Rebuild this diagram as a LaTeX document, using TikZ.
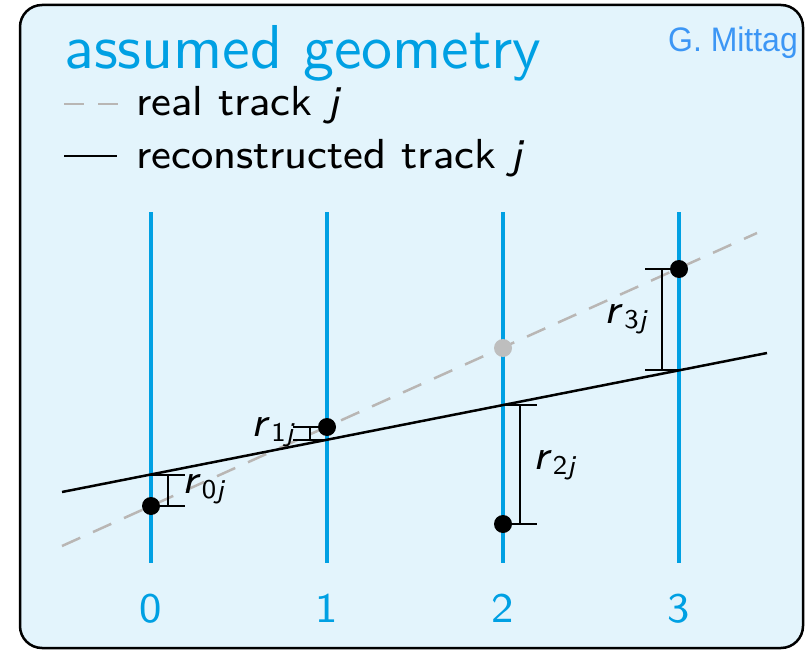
\documentclass[tikz,border=0pt]{standalone}
\usepackage{fontspec}
\newfontfamily\mittagfont[FakeStretch=0.94]{Liberation Sans}
\newfontfamily\titlefont{lmsans10-regular.otf}
\newfontfamily\legfont[ItalicFont=lmsans8-oblique.otf]{lmsans8-regular.otf}
\definecolor{detblue}{RGB}{0,160,227}
\definecolor{bgblue}{RGB}{227,244,252}
\definecolor{trackgray}{RGB}{185,182,180}
\definecolor{dotgray}{RGB}{190,190,190}
\definecolor{authorblue}{RGB}{60,150,245}
\tikzset{
  frame/.style={draw=black,line width=2.5pt,fill=bgblue,rounded corners=22pt},
  det/.style={draw=detblue,line width=4pt},
  realtrk/.style={draw=trackgray,line width=2.5pt,dash pattern=on 20pt off 14pt},
  recotrk/.style={draw=black,line width=2.5pt},
  hit/.style={circle,fill=black,inner sep=0pt,minimum size=18pt},
  truehit/.style={circle,fill=dotgray,inner sep=0pt,minimum size=18pt},
  resbar/.style={draw=black,line width=2pt},
  reslabel/.style={font=\fontsize{42}{44}\selectfont\legfont,inner sep=0pt},
  legtext/.style={font=\fontsize{42}{44}\selectfont\legfont,inner sep=0pt,anchor=base west},
  layerno/.style={font=\fontsize{42}{44}\selectfont\legfont,text=detblue,inner sep=0pt,anchor=base},
}
\newcommand{\resid}[1]{\textit{r}\hspace{1pt}\raisebox{-5pt}{\fontsize{27}{27}\selectfont #1\textit{j}}}
\begin{document}
\begin{tikzpicture}[x=1pt,y=-1pt]
\useasboundingbox (0,0) rectangle (806,650);
\draw[frame] (20,5) rectangle (803,648);
% title and author
\node[font=\fontsize{62}{64}\selectfont\titlefont,text=detblue,inner sep=0pt,anchor=base west] (title) at (64,69) {assumed geometry};
\node[font=\fontsize{34}{36}\selectfont\mittagfont,text=authorblue,inner sep=0pt,anchor=base east] (author) at (798,52) {G. Mittag};
% legend
\coordinate (lr1) at (64,104); \coordinate (lr2) at (120,104);
\draw[realtrk] (lr1) -- (lr2);
\node[legtext] (legreal) at (136,116) {real track \textit{j}};
\coordinate (ls1) at (64,156); \coordinate (ls2) at (117,156);
\draw[recotrk] (ls1) -- (ls2);
\node[legtext] (legreco) at (136,168) {reconstructed track \textit{j}};
% detector layers
\foreach \i/\x in {0/151,1/327,2/503,3/679}{
  \coordinate (top\i) at (\x,212);
  \coordinate (bot\i) at (\x,563);
  \draw[det] (top\i) -- (bot\i);
  \node[layerno] (num\i) at (\x,622) {\i};
}
% tracks
\coordinate (rs) at (62,546); \coordinate (re) at (757,233);
\draw[realtrk] (rs) -- (re);
\coordinate (cs) at (62,492); \coordinate (ce) at (767,353);
\draw[recotrk] (cs) -- (ce);
% fitted positions on reconstructed track
\coordinate (f0) at (151,474.5);
\coordinate (f1) at (327,439.7);
\coordinate (f2) at (503,405);
\coordinate (f3) at (679,370.3);
% hits
\node[truehit] (t2) at (503,348) {};
\node[hit] (p0) at (151,506) {};
\node[hit] (p1) at (327,427) {};
\node[hit] (p2) at (503,524) {};
\node[hit] (p3) at (679,269) {};
% residual bars
\draw[resbar] (f0) -- ++(34,0);
\draw[resbar] (p0.center) -- ++(34,0);
\draw[resbar] ([xshift=17pt]f0) -- ([xshift=17pt]p0.center);
\draw[resbar] (f1) -- ++(-34,0);
\draw[resbar] (p1.center) -- ++(-34,0);
\draw[resbar] ([xshift=-17pt]f1) -- ([xshift=-17pt]p1.center);
\draw[resbar] (f2) -- ++(34,0);
\draw[resbar] (p2.center) -- ++(34,0);
\draw[resbar] ([xshift=17pt]f2) -- ([xshift=17pt]p2.center);
\draw[resbar] (f3) -- ++(-34,0);
\draw[resbar] (p3.center) -- ++(-34,0);
\draw[resbar] ([xshift=-17pt]f3) -- ([xshift=-17pt]p3.center);
% residual labels
\node[reslabel,anchor=base west] (r0) at (182,493) {\resid{0}};
\node[reslabel,anchor=base east] (r1) at (295,436) {\resid{1}};
\node[reslabel,anchor=base west] (r2) at (533,469) {\resid{2}};
\node[reslabel,anchor=base east] (r3) at (648,323) {\resid{3}};
\end{tikzpicture}
\end{document}
